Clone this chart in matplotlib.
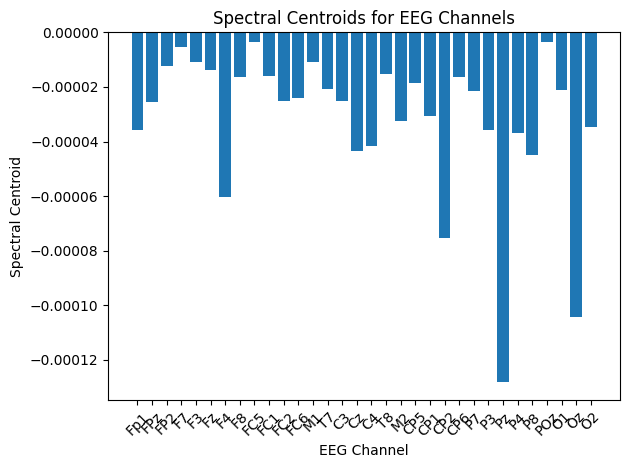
import numpy as np
import matplotlib
matplotlib.use('Agg')
import matplotlib.pyplot as plt

# Canales EEG y centroides espectrales
canales = ['Fp1', 'FPz', 'FP2', 'F7', 'F3', 'Fz', 'F4', 'F8',
           'FC5', 'FC1', 'FC2', 'FC6', 'M1', 'T7', 'C3', 'Cz',
           'C4', 'T8', 'M2', 'CP5', 'CP1', 'CP2', 'CP6', 'P7',
           'P3', 'Pz', 'P4', 'P8', 'POz', 'O1', 'Oz', 'O2']
centroides_e5 = [-3.56, -2.54, -1.22, -0.52, -1.07, -1.37, -6.05, -1.62,
                 -0.34, -1.59, -2.50, -2.39, -1.07, -2.06, -2.50, -4.33,
                 -4.15, -1.51, -3.23, -1.84, -3.05, -7.53, -1.62, -2.13,
                 -3.56, -12.83, -3.67, -4.48, -0.34, -2.10, -10.44, -3.45]
centroides = np.array(centroides_e5) * 1e-5

fig, ax = plt.subplots(figsize=(6.3, 4.7), dpi=100)
ax.bar(canales, centroides)
ax.set_xlabel('EEG Channel')
ax.set_ylabel('Spectral Centroid')
ax.set_title('Spectral Centroids for EEG Channels')
plt.xticks(rotation=45)
# posiciones de los ejes como en la figura original
fig.subplots_adjust(left=0.172, right=0.984, top=0.931, bottom=0.149)
plt.savefig('out.png')
